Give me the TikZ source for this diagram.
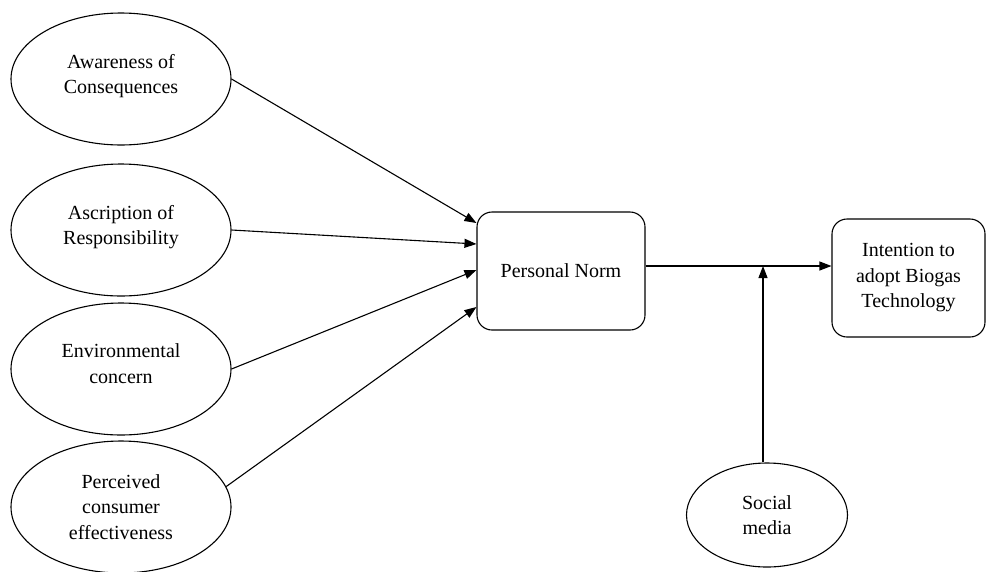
\documentclass[tikz,border=0pt]{standalone}
\usepackage{fontspec}
\setmainfont{Liberation Serif}
\usetikzlibrary{arrows.meta, shapes.geometric}

\tikzset{
    construct/.style={draw, ellipse, line width=1.1pt, inner sep=0pt,
        minimum width=220pt, minimum height=132pt, align=center},
    stagebox/.style={draw, rectangle, rounded corners=15pt, line width=1.1pt,
        inner sep=0pt, align=center},
    link/.style={line width=1.1pt, -{Triangle[length=12pt,width=9pt]}}
}

\begin{document}
\begin{tikzpicture}[x=1pt, y=-1pt, font=\fontsize{20}{25.5}\selectfont]
        % Cadre
        \useasboundingbox (0,0) rectangle (987,571);

        % Antécédents
        \node[construct] (awareness) at (121,79) {Awareness of\\Consequences\\[-15pt]};
        \node[construct] (ascription) at (121,230) {Ascription of\\Responsibility\\[-15pt]};
        \node[construct] (concern) at (121,369) {Environmental\\concern\\[-15pt]};
        \node[construct] (effectiveness) at (121,507) {Perceived\\consumer\\effectiveness};

        % Norme et intention
        \node[stagebox, minimum width=168pt, minimum height=118pt] (norm) at (561,271) {Personal Norm};
        \node[stagebox, minimum width=153pt, minimum height=118pt] (intention) at (908.5,278) {Intention to\\adopt Biogas\\Technology};

        % Modérateur
        \node[construct, minimum width=161pt, minimum height=104pt] (media) at (767,515) {Social\\media};

        % Relations
        \draw[link] (awareness.east) -- ([yshift=48pt]norm.west);
        \draw[link] (ascription.east) -- ([yshift=27pt]norm.west);
        \draw[link] (concern.east) -- ([yshift=1pt]norm.west);
        \draw[link] (effectiveness.11) -- ([yshift=-36pt]norm.west);
        \draw[link] ([yshift=5pt]norm.east) coordinate (out) -- (out -| intention.west);
        \draw[link] ([xshift=-4pt]media.north) -- ([xshift=-4pt]media.north |- out);
    \end{tikzpicture}
\end{document}
